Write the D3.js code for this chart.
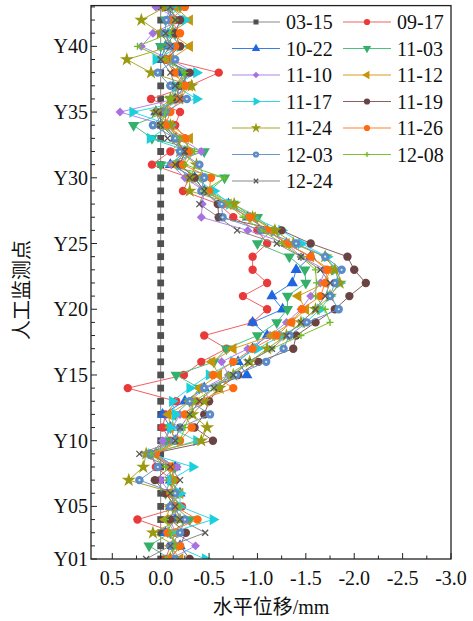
<!DOCTYPE html>
<html><head><meta charset="utf-8">
<script src="https://cdn.jsdelivr.net/npm/d3@7"></script>
<style>body{margin:0;background:#fff}svg{display:block}</style>
</head><body><div id="chart"></div>
<script>
const points = d3.range(1, 44); // Y01..Y43
const dates = ["03-15","09-17","10-22","11-03","11-10","11-12","11-17","11-19","11-24","11-26","12-03","12-08","12-24"];
const s0315 = points.map(() => 0);
const s0917 = [-0.05,-0.1,-0.15,0.24,-0.22,-0.1,-0.12,0.05,0.1,-0.1,-0.02,-0.05,-0.16,0.34,-0.24,-0.42,-0.68,-0.45,-0.95,-1.10,-0.85,-1.10,-0.95,-0.95,-1.1,-1.0,-0.75,-0.6,-0.23,-0.3,0.09,-0.1,-0.25,-0.15,-0.2,0.10,-0.3,-0.60,-0.05,-0.2,-0.1,-0.15,-0.05];
const s1022 = [-0.1,-0.2,-0.05,-0.15,-0.1,-0.2,-0.1,-0.15,0.05,-0.15,-0.1,-0.02,-0.25,-0.45,-0.89,-0.8,-0.95,-1.1,-0.95,-1.26,-1.15,-1.36,-1.40,-1.55,-1.3,-1.1,-0.9,-0.7,-0.45,-0.35,-0.1,-0.25,-0.15,-0.05,0.05,-0.15,-0.25,-0.2,0.0,-0.05,-0.15,-0.1,-0.1];
const s1103 = [-0.1,0.12,-0.1,-0.3,-0.15,-0.05,-0.1,-0.15,0.1,-0.05,-0.1,-0.15,-0.3,-0.4,-0.16,-0.55,-0.68,-1.0,-1.2,-1.31,-1.31,-1.5,-1.49,-1.33,-1.0,-1.15,-1.0,-0.75,-0.5,-0.66,0.0,-0.45,0.09,0.28,-0.05,-0.1,-0.15,-0.25,-0.1,0.0,-0.15,-0.05,-0.2];
const s1110 = [-0.1,-0.36,-0.15,-0.1,-0.2,-0.1,0.0,-0.17,0.1,-0.02,-0.12,-0.2,-0.5,-0.45,-0.7,-0.63,-0.9,-1.13,-1.3,-1.45,-1.55,-1.65,-1.7,-1.45,-1.3,-0.9,-0.42,-0.43,-0.45,-0.25,-0.11,-0.42,-0.2,-0.05,0.42,-0.15,-0.1,-0.35,-0.1,0.2,0.08,-0.2,0.05];
const s1112 = [-0.2,-0.1,-0.15,-0.05,-0.1,-0.2,-0.1,-0.1,0.05,-0.15,-0.1,-0.08,-0.3,-0.4,-0.6,-0.53,-0.75,-1.15,-1.35,-1.5,-1.42,-1.7,-1.75,-1.55,-1.3,-1.15,-0.95,-0.7,-0.5,-0.4,-0.15,-0.25,-0.3,-0.1,0.0,-0.2,-0.3,-0.15,-0.1,-0.3,-0.1,-0.3,-0.15];
const s1117 = [-0.46,-0.15,-0.1,-0.54,-0.2,-0.2,-0.1,-0.33,0.1,-0.37,-0.1,-0.15,-0.12,-0.3,-0.5,-0.75,-1.0,-1.25,-1.5,-1.65,-1.75,-1.85,-1.8,-1.72,-1.45,-1.25,-0.95,-0.71,-0.55,-0.35,-0.2,-0.3,0.11,-0.1,0.29,-0.37,-0.15,-0.37,0.05,-0.2,-0.1,-0.25,-0.1];
const s1119 = [-0.3,-0.2,-0.26,-0.1,-0.15,-0.05,0.06,-0.1,0.1,-0.54,-0.35,-0.45,-0.5,-0.6,-0.8,-1.01,-1.37,-1.4,-1.6,-1.8,-1.95,-2.12,-2.0,-1.93,-1.55,-1.25,-0.6,-0.59,-0.45,-0.35,-0.2,-0.25,-0.15,0.0,0.0,-0.15,-0.2,-0.3,-0.05,-0.2,-0.15,-0.2,-0.05];
const s1124 = [-0.1,-0.15,0.08,-0.2,-0.1,-0.15,0.33,0.18,0.15,-0.42,-0.48,-0.33,-0.45,-0.61,-0.75,-0.92,-1.1,-1.3,-1.45,-1.6,-1.75,-1.85,-1.8,-1.7,-1.37,-1.18,-0.95,-0.76,-0.3,-0.3,-0.37,-0.2,-0.16,-0.1,0.05,-0.1,-0.32,0.1,0.35,-0.1,0.0,0.2,-0.05];
const s1126 = [-0.1,-0.2,-0.07,-0.38,-0.15,-0.1,-0.15,-0.1,0.05,-0.2,-0.32,-0.25,-0.37,-0.75,-0.54,-0.75,-0.95,-1.2,-1.35,-1.46,-1.65,-1.7,-1.72,-1.55,-1.3,-1.1,-0.92,-0.65,-0.5,-0.52,-0.23,-0.3,-0.25,-0.05,-0.1,-0.2,-0.25,-0.14,-0.05,-0.15,-0.2,-0.1,-0.25];
const s1203 = [-0.15,-0.1,-0.2,-0.25,-0.1,-0.15,0.22,0.03,0.1,-0.14,-0.2,-0.51,-0.3,-0.45,-0.78,-1.09,-1.27,-1.33,-1.51,-1.84,-1.75,-1.8,-1.87,-1.7,-1.4,-1.04,-0.64,-0.63,-0.42,-0.45,-0.4,-0.2,-0.15,0.08,-0.05,-0.27,-0.1,0.03,-0.15,-0.1,-0.04,-0.06,-0.1];
const s1208 = [-0.05,-0.15,-0.1,-0.05,-0.2,-0.1,-0.15,-0.05,0.1,-0.2,-0.25,-0.3,-0.35,-0.55,-0.7,-0.91,-1.15,-1.45,-1.75,-1.7,-1.6,-1.61,-1.6,-1.45,-1.25,-1.05,-0.85,-0.7,-0.45,-0.66,-0.25,-0.35,-0.2,0.0,-0.05,-0.1,-0.2,-0.25,-0.05,0.24,-0.1,-0.15,-0.1];
const s1224 = [0.15,-0.1,-0.46,-0.2,-0.15,-0.1,-0.2,-0.1,0.22,-0.15,-0.2,-0.3,-0.4,-0.55,-0.75,-0.9,-1.15,-1.3,-1.45,-1.6,-1.7,-1.75,-1.65,-1.45,-1.2,-0.79,-0.6,-0.4,-0.45,-0.3,-0.15,-0.25,-0.07,0.0,0.05,-0.2,-0.15,-0.1,0.0,-0.1,-0.05,-0.15,-0.1];
const xTicks = [0.5,0.0,-0.5,-1.0,-1.5,-2.0,-2.5,-3.0];
const yTicks = [1,5,10,15,20,25,30,35,40];
const yTickLabels = ["Y01","Y05","Y10","Y15","Y20","Y25","Y30","Y35","Y40"];
const xTitle = "水平位移/mm";
const yTitle = "人工监测点";

const seriesValues = [s0315,s0917,s1022,s1103,s1110,s1112,s1117,s1119,s1124,s1126,s1203,s1208,s1224];
const styles = [
  {line:"#8a8a8a", mk:"#505050", sym:"square"},
  {line:"#f06060", mk:"#e83a3a", sym:"circle"},
  {line:"#3a7fe8", mk:"#1f66e0", sym:"triUp"},
  {line:"#4cc07e", mk:"#35b06a", sym:"triDown"},
  {line:"#b088e8", mk:"#a672e2", sym:"diamond"},
  {line:"#d4a020", mk:"#c8940a", sym:"triLeft"},
  {line:"#30d8e4", mk:"#1ccfdc", sym:"triRight"},
  {line:"#8a6060", mk:"#6b4343", sym:"circle"},
  {line:"#a8a828", mk:"#9a9a12", sym:"star"},
  {line:"#ff8030", mk:"#ff6a10", sym:"circle"},
  {line:"#6a98cc", mk:"#5b8cc8", sym:"dotCircle"},
  {line:"#7cc230", mk:"#6fbb1e", sym:"plus"},
  {line:"#8a8a8a", mk:"#555555", sym:"times"}
];

const W = 473, H = 621;
const L = 91, R = 451, T = 5.6, B = 559;
const svg = d3.select("#chart").append("svg").attr("width", W).attr("height", H);
const x = d3.scaleLinear().domain([0.72, -3.0]).range([L, R]);
const y = d3.scaleLinear().domain([1, 43.1]).range([B, T]);
const font = "'Liberation Serif','Times New Roman',serif";
const cjk = "'Liberation Serif','Noto Sans CJK SC',serif";

svg.append("defs").append("clipPath").attr("id","clip").append("rect")
  .attr("x", L).attr("y", T).attr("width", R-L).attr("height", B-T);

function drawMarker(g, sym, color, cx, cy, s) {
  const k = s;
  if (sym === "square") {
    g.append("path").attr("d", d3.symbol(d3.symbolSquare, 46*k)()).attr("transform",`translate(${cx},${cy})`).attr("fill",color);
  } else if (sym === "circle") {
    g.append("circle").attr("cx",cx).attr("cy",cy).attr("r",4.2*Math.sqrt(k)).attr("fill",color);
  } else if (sym === "dotCircle") {
    g.append("circle").attr("cx",cx).attr("cy",cy).attr("r",4.2*Math.sqrt(k)).attr("fill",color);
    g.append("circle").attr("cx",cx).attr("cy",cy).attr("r",1.1*Math.sqrt(k)).attr("fill","#dde9f7");
  } else if (sym.startsWith("tri")) {
    const rot = {triUp:0, triDown:180, triLeft:-90, triRight:90}[sym];
    g.append("path").attr("d", d3.symbol(d3.symbolTriangle, 55*k)()).attr("transform",`translate(${cx},${cy}) rotate(${rot})`).attr("fill",color);
  } else if (sym === "diamond") {
    g.append("path").attr("d", d3.symbol(d3.symbolSquare, 40*k)()).attr("transform",`translate(${cx},${cy}) rotate(45)`).attr("fill",color);
  } else if (sym === "star") {
    g.append("path").attr("d", d3.symbol(d3.symbolStar, 60*k)()).attr("transform",`translate(${cx},${cy})`).attr("fill",color);
  } else if (sym === "plus") {
    const h = 3.5*Math.sqrt(k);
    g.append("path").attr("d",`M${cx-h},${cy}H${cx+h}M${cx},${cy-h}V${cy+h}`).attr("stroke",color).attr("stroke-width",1.3).attr("fill","none");
  } else if (sym === "times") {
    const h = 3*Math.sqrt(k);
    g.append("path").attr("d",`M${cx-h},${cy-h}L${cx+h},${cy+h}M${cx-h},${cy+h}L${cx+h},${cy-h}`).attr("stroke",color).attr("stroke-width",1.3).attr("fill","none");
  }
}

const plot = svg.append("g").attr("clip-path","url(#clip)");
const line = d3.line().x(d => x(d.v)).y(d => y(d.p));
seriesValues.forEach((vals, si) => {
  const st = styles[si];
  const data = vals.map((v, i) => ({v, p: points[i]}));
  const g = plot.append("g");
  g.append("path").datum(data).attr("d", line).attr("fill","none").attr("stroke", st.line).attr("stroke-width", 1);
  data.forEach(d => drawMarker(g, st.sym, st.mk, x(d.v), y(d.p), 1));
});

// frame
svg.append("rect").attr("x",L).attr("y",T).attr("width",R-L).attr("height",B-T)
  .attr("fill","none").attr("stroke","#222").attr("stroke-width",1.3);

// x axis ticks (inward)
const xMinor = d3.range(0.5, -3.01, -0.25);
xMinor.forEach(v => {
  const major = Math.abs(v*2 - Math.round(v*2)) < 1e-6;
  svg.append("line").attr("x1",x(v)).attr("x2",x(v)).attr("y1",B).attr("y2",B-(major?6:3.5)).attr("stroke","#222");
});
svg.append("g").selectAll("text").data(xTicks).join("text")
  .attr("x", d => x(d)).attr("y", B+26).attr("text-anchor","middle")
  .attr("font-family",font).attr("font-size",20).attr("fill","#111")
  .text(d => d.toFixed(1));

// y axis ticks (inward)
d3.range(1, 44).forEach(p => {
  const major = yTicks.includes(p);
  svg.append("line").attr("x1",L).attr("x2",L+(major?6:4)).attr("y1",y(p)).attr("y2",y(p)).attr("stroke","#222");
});
svg.append("g").selectAll("text").data(yTicks).join("text")
  .attr("x", L-3).attr("y", d => y(d)+7).attr("text-anchor","end")
  .attr("font-family",font).attr("font-size",20).attr("fill","#111")
  .text((d,i) => yTickLabels[i]);

svg.append("text").attr("x",(L+R)/2).attr("y",614).attr("text-anchor","middle")
  .attr("font-family",cjk).attr("font-size",20).attr("fill","#111").text(xTitle);
svg.append("text").attr("transform",`translate(29,290) rotate(-90)`).attr("text-anchor","middle")
  .attr("font-family",cjk).attr("font-size",20).attr("fill","#111").text(yTitle);

// legend
const leg = svg.append("g");
dates.forEach((dname, i) => {
  const col = i % 2, row = Math.floor(i / 2);
  const lx = col === 0 ? 232 : 343;
  const ly = 22 + row * 26.5;
  const st = styles[i];
  const g = leg.append("g");
  g.append("line").attr("x1",lx).attr("x2",lx+48).attr("y1",ly).attr("y2",ly).attr("stroke",st.line).attr("stroke-width",1.2);
  drawMarker(g, st.sym, st.mk, lx+24, ly, 0.55);
  g.append("text").attr("x",lx+54).attr("y",ly+7).attr("font-family",font).attr("font-size",20).attr("fill","#111").text(dname);
});
</script></body></html>
